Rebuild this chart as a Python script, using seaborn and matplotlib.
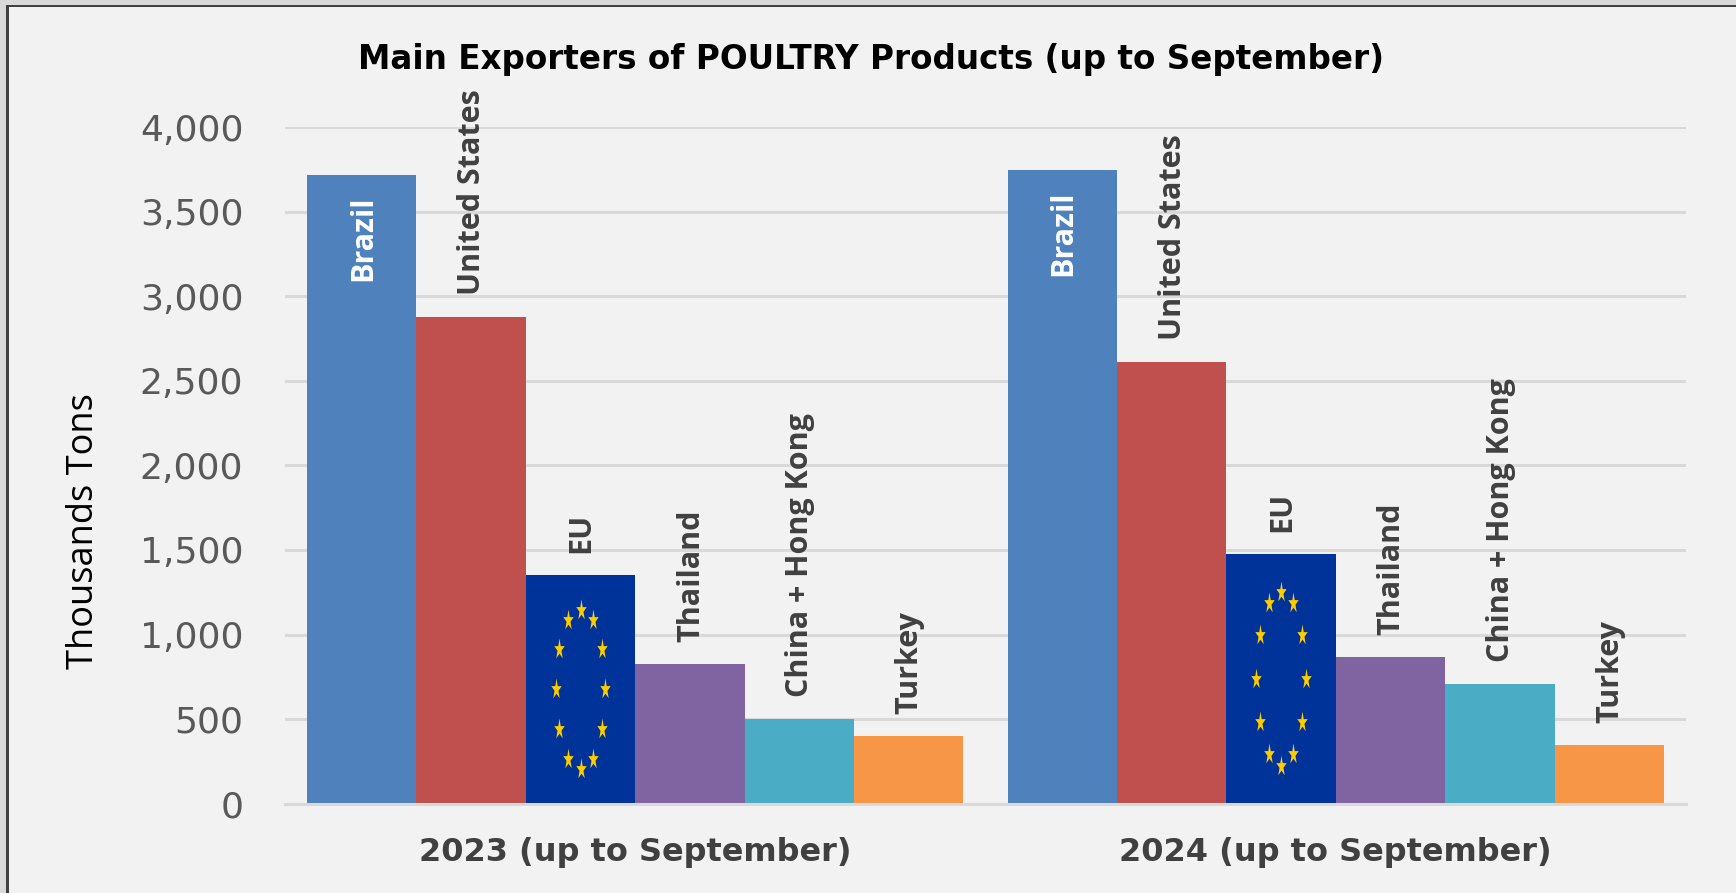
import numpy as np
import pandas as pd
import matplotlib
matplotlib.use("Agg")
import matplotlib.pyplot as plt
import seaborn as sns
from matplotlib.markers import MarkerStyle
from matplotlib.transforms import Affine2D

periods = ["2023 (up to September)", "2024 (up to September)"]
countries = ["Brazil", "United States", "EU", "Thailand", "China + Hong Kong", "Turkey"]
values_2023 = [3720, 2880, 1350, 825, 500, 400]
values_2024 = [3750, 2610, 1475, 865, 710, 345]
colors = ["#4F81BD", "#C0504D", "#003399", "#8064A2", "#4BACC6", "#F79646"]
yticks = [0, 500, 1000, 1500, 2000, 2500, 3000, 3500, 4000]
title = "Main Exporters of POULTRY Products (up to September)"
ylabel = "Thousands Tons"

W, H = 1736, 893
narrow = "Open Sans"

df = pd.DataFrame({
    "period": np.repeat(periods, len(countries)),
    "country": countries * 2,
    "value": values_2023 + values_2024,
})

sns.set_theme(style="white")
fig = plt.figure(figsize=(W / 100, H / 100), dpi=100, facecolor="#F2F2F2")
ax = fig.add_axes([285 / W, 1 - 803.5 / H, (1686 - 285) / W, (803.5 - 127.5) / H])
ax.set_facecolor("#F2F2F2")
sns.barplot(data=df, x="period", y="value", hue="country", hue_order=countries,
            palette=colors, saturation=1, width=0.937, gap=0, legend=False, ax=ax,
            linewidth=0, errorbar=None)
ax.set_xlim(-0.5, 1.5)
ax.set_ylim(0, 4000)
ax.set_yticks(yticks)
ax.set_yticklabels([f"{v:,}" for v in yticks], fontsize=26, color="#595959", family="DejaVu Sans")
ax.tick_params(axis="y", length=0, pad=30)
ax.tick_params(axis="x", length=0, pad=24)
ax.set_xticks([0, 1])
ax.set_xticklabels(periods, fontsize=23, fontweight="bold", color="#404040", family="DejaVu Sans")
ax.grid(axis="y", color="#D9D9D9", linewidth=2.2)
ax.set_axisbelow(True)
for s in ["top", "right", "left"]:
    ax.spines[s].set_visible(False)
ax.spines["bottom"].set_color("#D9D9D9")
ax.spines["bottom"].set_linewidth(2.2)
ax.set_xlabel("")
ax.set_ylabel("")

fig.text(84 / W, 1 - 531 / H, ylabel, rotation=90, ha="center", va="center",
         fontsize=26, color="black", family=narrow)
fig.text(871 / W, 1 - 59 / H, title, ha="center", va="center", fontsize=23.5,
         fontweight="bold", color="black", family="DejaVu Sans")

# Country labels rotated above each bar
bars = sorted([p for p in ax.patches if p.get_height() > 0], key=lambda p: p.get_x())
for bar, name in zip(bars, countries * 2):
    cx = bar.get_x() + bar.get_width() / 2
    h = bar.get_height()
    if name == "Brazil":
        ax.annotate(name, (cx, h), xytext=(1, -21), textcoords="offset pixels", rotation=90,
                    ha="center", va="top", fontsize=22, fontweight="bold", color="white", family=narrow)
    else:
        ax.annotate(name, (cx, h), xytext=(1, 22), textcoords="offset pixels", rotation=90,
                    ha="center", va="bottom", fontsize=22, fontweight="bold", color="#404040", family=narrow)

# EU flag stars: a ring inside each EU bar
ring = np.deg2rad(np.arange(0, 360, 30))
star = MarkerStyle("*", transform=Affine2D().scale(0.75, 1.5))
for bar in bars[2::6]:
    cx = bar.get_x() + bar.get_width() / 2
    cy = bar.get_height() * 0.5
    rx = bar.get_width() * 0.225
    ry = bar.get_height() * 0.35
    ax.scatter(cx + rx * np.sin(ring), cy + ry * np.cos(ring), marker=star, s=110, color="#FFCC00",
               linewidths=0, zorder=5)

# Picture frame: grey margin and dark rule on the left and top edges only
def frame(x0, y0, x1, y1, color):
    fig.add_artist(plt.Rectangle((x0 / W, 1 - y1 / H), (x1 - x0) / W, (y1 - y0) / H,
                                 transform=fig.transFigure, color=color, lw=0))

frame(0, 0, 6, H, "#D9D9D9")
frame(0, 0, W, 5, "#D9D9D9")
frame(6, 5, 9, H, "#404040")
frame(6, 5, W, 7, "#404040")
fig.savefig("out.png", dpi=100, facecolor=fig.get_facecolor())
